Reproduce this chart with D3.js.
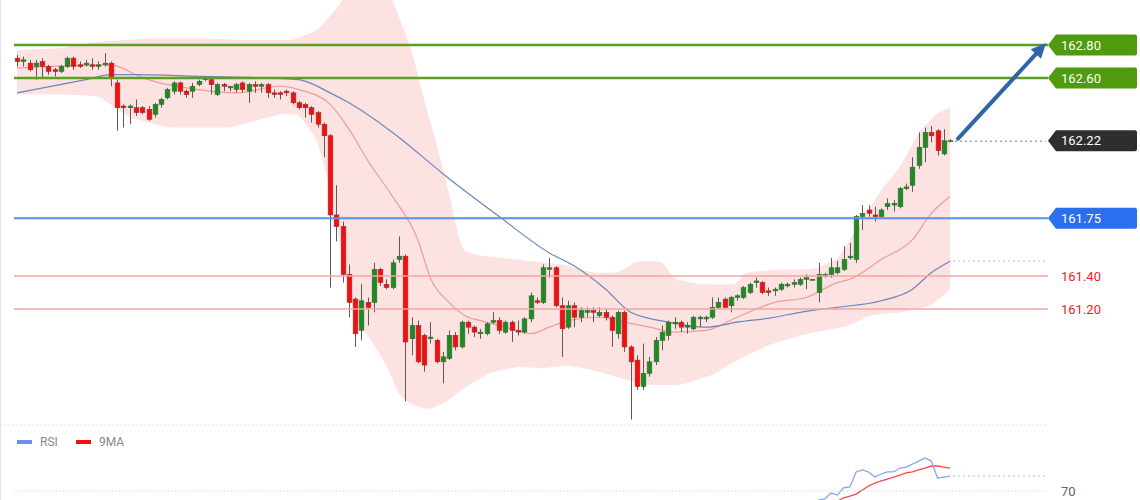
<!DOCTYPE html>
<html>
<head>
<meta charset="utf-8">
<script src="https://cdn.jsdelivr.net/npm/d3@7"></script>
<style>
  body { margin: 0; background: #fff; }
  svg { display: block; font-family: Roboto, "Open Sans", sans-serif; }
</style>
</head>
<body>
<div id="chart"></div>
<script>
// candles (price units)
const open = [
162.72,162.70,162.69,162.67,162.70,162.67,162.65,162.64,162.67,162.72,
162.68,162.68,162.68,162.67,162.68,162.69,162.57,162.43,162.42,162.42,
162.42,162.41,162.38,162.44,162.48,162.52,162.57,162.52,162.52,162.56,
162.59,162.59,162.50,162.56,162.54,162.53,162.57,162.52,162.56,162.55,
162.56,162.51,162.51,162.52,162.51,162.45,162.44,162.42,162.39,162.32,
162.25,161.77,161.70,161.41,161.26,161.07,161.24,161.24,161.44,161.35,
161.33,161.50,161.52,161.02,161.10,161.04,161.02,161.01,160.88,160.90,
161.04,160.97,161.12,161.09,161.05,161.05,161.12,161.13,161.06,161.12,
161.07,161.06,161.14,161.25,161.24,161.44,161.45,161.22,161.09,161.22,
161.15,161.18,161.19,161.16,161.18,161.15,161.05,161.18,160.97,160.89,
160.73,160.81,160.88,161.01,161.04,161.11,161.12,161.09,161.08,161.14,
161.14,161.15,161.21,161.26,161.22,161.27,161.27,161.30,161.36,161.36,
161.31,161.31,161.32,161.34,161.35,161.35,161.38,161.38,161.30,161.40,
161.41,161.42,161.44,161.51,161.50,161.76,161.80,161.77,161.76,161.82,
161.83,161.82,161.93,161.95,162.07,162.18,162.27,162.28,162.14,162.22];

const close = [
162.70,162.71,162.65,162.69,162.67,162.64,162.64,162.67,162.72,162.67,
162.67,162.69,162.67,162.68,162.69,162.60,162.42,162.42,162.43,162.39,
162.39,162.35,162.44,162.47,162.53,162.57,162.52,162.50,162.55,162.58,
162.60,162.56,162.56,162.55,162.55,162.56,162.53,162.56,162.55,162.56,
162.51,162.50,162.50,162.51,162.45,162.42,162.42,162.38,162.32,162.25,
161.77,161.70,161.41,161.24,161.05,161.25,161.21,161.44,161.36,161.33,
161.48,161.52,161.00,161.10,160.88,160.86,161.03,160.88,160.91,161.04,
160.97,161.12,161.09,161.06,161.06,161.11,161.13,161.07,161.12,161.07,
161.06,161.14,161.28,161.24,161.45,161.45,161.22,161.08,161.22,161.15,
161.19,161.19,161.18,161.18,161.15,161.07,161.18,160.97,160.88,160.73,
160.81,160.88,161.01,161.06,161.12,161.12,161.09,161.10,161.15,161.15,
161.15,161.21,161.24,161.21,161.27,161.28,161.33,161.35,161.37,161.30,
161.30,161.32,161.35,161.35,161.36,161.38,161.39,161.38,161.41,161.41,
161.45,161.45,161.50,161.52,161.76,161.78,161.78,161.76,161.80,161.84,
161.84,161.93,161.94,162.06,162.18,162.27,162.25,162.16,162.22,162.22];

const high = [
162.74,162.73,162.71,162.71,162.72,162.68,162.66,162.68,162.73,162.73,
162.70,162.71,162.72,162.70,162.75,162.70,162.59,162.44,162.44,162.47,
162.43,162.43,162.45,162.48,162.54,162.58,162.58,162.53,162.57,162.59,
162.61,162.60,162.57,162.57,162.55,162.57,162.58,162.57,162.58,162.57,
162.57,162.53,162.52,162.53,162.52,162.46,162.45,162.43,162.40,162.33,
162.26,161.95,161.73,161.47,161.27,161.35,161.27,161.48,161.45,161.38,
161.50,161.64,161.53,161.15,161.13,161.05,161.12,161.02,160.94,161.07,
161.06,161.13,161.13,161.10,161.08,161.12,161.18,161.15,161.13,161.13,
161.13,161.15,161.30,161.27,161.47,161.51,161.46,161.27,161.25,161.24,
161.21,161.21,161.21,161.21,161.20,161.16,161.19,161.19,160.98,160.92,
160.99,160.91,161.03,161.10,161.13,161.15,161.13,161.12,161.16,161.16,
161.16,161.27,161.27,161.27,161.28,161.29,161.34,161.36,161.39,161.37,
161.33,161.33,161.36,161.36,161.38,161.39,161.41,161.38,161.48,161.42,
161.51,161.49,161.58,161.60,161.77,161.83,161.83,161.82,161.81,161.87,
161.86,161.94,161.96,162.12,162.27,162.30,162.31,162.29,162.29,162.23];

const low = [
162.67,162.67,162.64,162.59,162.60,162.62,162.61,162.63,162.66,162.65,
162.66,162.67,162.65,162.65,162.67,162.55,162.28,162.30,162.32,162.37,
162.38,162.34,162.36,162.42,162.47,162.50,162.50,162.48,162.48,162.55,
162.58,162.50,162.49,162.52,162.52,162.51,162.51,162.45,162.51,162.51,
162.48,162.48,162.47,162.49,162.44,162.41,162.36,162.33,162.30,162.12,
161.33,161.61,161.36,161.15,160.97,161.01,161.10,161.18,161.34,161.32,
161.32,161.48,160.64,160.92,160.87,160.82,160.99,160.87,160.75,160.89,
160.95,160.96,161.05,161.03,161.02,161.04,161.11,161.05,161.05,161.00,
161.04,161.05,161.12,161.23,161.23,161.39,161.21,160.91,161.08,161.09,
161.12,161.15,161.12,161.15,161.13,160.97,161.02,160.94,160.53,160.71,
160.71,160.79,160.86,160.95,161.01,161.08,161.06,161.05,161.07,161.09,
161.12,161.14,161.20,161.20,161.18,161.25,161.26,161.29,161.33,161.29,
161.28,161.28,161.31,161.33,161.33,161.34,161.32,161.38,161.24,161.39,
161.39,161.41,161.43,161.50,161.48,161.68,161.76,161.73,161.75,161.80,
161.79,161.81,161.92,161.91,162.05,162.09,162.21,162.13,162.13,162.21];

// bands and moving averages: [candle index, price]
const upperBand = [[0,162.77],[7,162.78],[13,162.82],[21,162.84],[29,162.84],[37,162.83],[44,162.83],
  [48,162.89],[51,163.02],[53,163.13],[59,163.13],[60,163.07],[63,162.77],[65,162.47],[68,162.06],
  [71,161.56],[73,161.53],[77,161.51],[82,161.49],[87,161.47],[92,161.42],[96,161.42],[99,161.49],
  [103,161.49],[105,161.38],[109,161.35],[115,161.35],[116,161.42],[122,161.44],[127,161.44],
  [131,161.50],[133,161.62],[136,161.80],[138,161.92],[141,162.06],[144,162.27],[147,162.39],[149,162.42]];
const lowerBand = [[0,162.50],[7,162.50],[13,162.49],[18,162.36],[24,162.30],[34,162.30],[39,162.35],
  [42,162.38],[45,162.38],[48,162.22],[50,161.92],[52,161.50],[54,161.13],[56,161.04],[59,160.86],
  [61,160.68],[63,160.62],[66,160.59],[69,160.65],[72,160.74],[76,160.82],[80,160.85],[84,160.84],
  [88,160.86],[93,160.82],[100,160.74],[106,160.74],[111,160.80],[115,160.89],[120,160.98],
  [125,161.04],[133,161.10],[136,161.16],[141,161.18],[146,161.22],[149,161.32]];
const fastMA = [[0,162.66],[15,162.68],[19,162.62],[21,162.59],[29,162.53],[35,162.51],[42,162.55],
  [45,162.53],[50,162.44],[53,162.29],[56,162.10],[60,161.88],[64,161.62],[66,161.39],[69,161.24],
  [72,161.15],[74,161.13],[80,161.07],[82,161.05],[85,161.09],[88,161.13],[93,161.15],[97,161.12],
  [101,161.09],[105,161.06],[110,161.07],[115,161.15],[121,161.24],[126,161.27],[131,161.36],
  [133,161.38],[138,161.50],[143,161.62],[146,161.78],[149,161.88]];
const slowMA = [[0,162.51],[11,162.59],[15,162.62],[19,162.62],[29,162.61],[40,162.60],[45,162.59],
  [50,162.51],[53,162.45],[61,162.24],[68,162.02],[77,161.76],[85,161.54],[89,161.46],[94,161.32],
  [98,161.18],[104,161.12],[110,161.09],[115,161.12],[121,161.15],[125,161.18],[131,161.21],
  [138,161.25],[143,161.32],[146,161.42],[149,161.49]];

// RSI panel
const rsi = [[124,60],[125,61],[126,61.5],[127,61],[128,64.7],[129,65.3],[130,68.8],[131,67.6],
  [132,71.8],[133,72.4],[134,81.2],[135,82.4],[136,81.2],[137,78.2],[138,80],[139,81.2],[140,81.2],
  [141,83.5],[142,84.1],[143,85.9],[144,87.6],[145,89.4],[146,87.6],[147,77.6],[148,78.2],[149,78.8]];
const rsiMA = [[128,61],[129,62],[130,62.5],[131,64],[132,66],[133,67],[134,68.2],[135,70.6],
  [136,72.9],[137,74.7],[138,75.9],[139,77],[140,78.2],[141,79.4],[142,80.6],[143,81.2],[144,82.4],
  [145,83.5],[146,84.7],[147,84.7],[148,84.1],[149,83.5]];

// levels
const resistLevels = [162.80, 162.60];
const pivotLevel = 161.75;
const supportLevels = [161.40, 161.20];
const lastPrice = 162.22;
const rsiLevel = 70;

const W = 1140, H = 500;
const n = open.length;

const svg = d3.select("#chart").append("svg")
    .attr("width", W).attr("height", H);

const x = d3.scaleBand()
    .domain(d3.range(n))
    .range([13.9, 953.2])
    .paddingInner(0.25)
    .paddingOuter(0.125);
const cx = i => x(i) + x.bandwidth() / 2;

const y = d3.scaleLinear()
    .domain([160.5, 163.05])
    .range([424.5, 3.75]);

const yR = d3.scaleLinear()
    .domain([70, 100])
    .range([491, 440]);

svg.append("defs").append("clipPath").attr("id", "main")
    .append("rect").attr("x", 0).attr("y", 0).attr("width", 1048).attr("height", 424);
svg.select("defs").append("clipPath").attr("id", "sub")
    .append("rect").attr("x", 0).attr("y", 428).attr("width", 1048).attr("height", 72);

// frame
svg.append("line").attr("x1", 0.5).attr("x2", 0.5).attr("y1", 0).attr("y2", H)
    .attr("stroke", "#dfe3ea");
svg.append("line").attr("x1", 0).attr("x2", 1045).attr("y1", 424.5).attr("y2", 424.5)
    .attr("stroke", "#e4d4d8").attr("stroke-dasharray", "1,3");

const main = svg.append("g").attr("clip-path", "url(#main)");

// bollinger band
const bandData = d3.range(n).map(i => i);
const up = d3.scaleLinear().domain(upperBand.map(d => d[0])).range(upperBand.map(d => d[1]));
const lo = d3.scaleLinear().domain(lowerBand.map(d => d[0])).range(lowerBand.map(d => d[1]));
main.append("path")
    .datum(bandData)
    .attr("fill", "#fde2e2")
    .attr("d", d3.area()
        .x(i => cx(i))
        .y0(i => y(lo(i)))
        .y1(i => y(up(i)))
        .curve(d3.curveBasis));

const line = d3.line().x(d => cx(d[0])).y(d => y(d[1])).curve(d3.curveMonotoneX);
main.append("path").datum(fastMA).attr("fill", "none")
    .attr("stroke", "#f29a9a").attr("stroke-width", 1.2).attr("d", line);
main.append("path").datum(slowMA).attr("fill", "none")
    .attr("stroke", "#6b86b8").attr("stroke-width", 1.2).attr("d", line);

// horizontal levels
const x0 = 14, x1 = 1048;
svg.selectAll(".sup").data(supportLevels).enter().append("line")
    .attr("x1", x0).attr("x2", x1)
    .attr("y1", d => y(d)).attr("y2", d => y(d))
    .attr("stroke", "#f6a3a3").attr("stroke-width", 1.5);
svg.append("line")
    .attr("x1", x0).attr("x2", x1)
    .attr("y1", y(pivotLevel)).attr("y2", y(pivotLevel))
    .attr("stroke", "#5b8ef2").attr("stroke-width", 2);
svg.selectAll(".res").data(resistLevels).enter().append("line")
    .attr("x1", x0).attr("x2", x1)
    .attr("y1", d => y(d)).attr("y2", d => y(d))
    .attr("stroke", "#5ba024").attr("stroke-width", 2.5);

// candles
const candles = main.append("g").selectAll("g")
    .data(d3.range(n))
    .enter().append("g");
candles.append("line")
    .attr("x1", i => Math.round(cx(i)) + 0.5).attr("x2", i => Math.round(cx(i)) + 0.5)
    .attr("y1", i => y(high[i])).attr("y2", i => y(low[i]))
    .attr("stroke", "#5a5a5a").attr("stroke-width", 1);
candles.append("rect")
    .attr("x", i => Math.round(cx(i)) + 0.5 - x.bandwidth() / 2)
    .attr("width", x.bandwidth())
    .attr("y", i => y(Math.max(open[i], close[i])))
    .attr("height", i => Math.max(1, y(Math.min(open[i], close[i])) - y(Math.max(open[i], close[i]))))
    .attr("fill", i => close[i] >= open[i] ? "#1f8a22" : "#f01010")
    .attr("stroke", i => close[i] >= open[i] ? "#356b35" : "#a52a2a")
    .attr("stroke-width", 0.6);

// dotted guides
svg.append("line")
    .attr("x1", 955).attr("x2", 1046)
    .attr("y1", y(lastPrice) + 0.5).attr("y2", y(lastPrice) + 0.5)
    .attr("stroke", "#777").attr("stroke-dasharray", "2,3");
svg.append("line")
    .attr("x1", 953).attr("x2", 1046)
    .attr("y1", y(slowMA[slowMA.length - 1][1])).attr("y2", y(slowMA[slowMA.length - 1][1]))
    .attr("stroke", "#a9bde8").attr("stroke-dasharray", "2,3");

// arrow
const ax0 = cx(n - 1) + 8, ay0 = y(lastPrice) - 2;
const ax1 = 1046, ay1 = y(resistLevels[0]) - 2;
const ang = Math.atan2(ay1 - ay0, ax1 - ax0);
const hl = 15, hw = 7;
const bx = ax1 - hl * Math.cos(ang), by = ay1 - hl * Math.sin(ang);
svg.append("line")
    .attr("x1", ax0).attr("y1", ay0).attr("x2", bx).attr("y2", by)
    .attr("stroke", "#3163a6").attr("stroke-width", 4).attr("stroke-linecap", "round");
svg.append("path")
    .attr("d", `M${ax1},${ay1}L${bx + hw * Math.sin(ang)},${by - hw * Math.cos(ang)}L${bx - hw * Math.sin(ang)},${by + hw * Math.cos(ang)}Z`)
    .attr("fill", "#3163a6");

// price tags
function tag(price, fill) {
    const yc = y(price);
    const g = svg.append("g");
    g.append("path")
        .attr("d", `M1048,${yc}L1056,${yc - 10.5}L1135,${yc - 10.5}Q1137,${yc - 10.5} 1137,${yc - 8.5}L1137,${yc + 8.5}Q1137,${yc + 10.5} 1135,${yc + 10.5}L1056,${yc + 10.5}Z`)
        .attr("fill", fill);
    g.append("text")
        .attr("x", 1061).attr("y", yc).attr("dy", "0.36em")
        .attr("fill", "#fff").attr("font-size", 13)
        .text(price.toFixed(2));
}
resistLevels.forEach(p => tag(p, "#4f9a0e"));
tag(lastPrice, "#2e2e2e");
tag(pivotLevel, "#2a6fee");
svg.selectAll(".suplab").data(supportLevels).enter().append("text")
    .attr("x", 1061).attr("y", d => y(d)).attr("dy", "0.36em")
    .attr("fill", "#f01c1c").attr("font-size", 13)
    .text(d => d.toFixed(2));

// RSI panel
const sub = svg.append("g").attr("clip-path", "url(#sub)");
svg.append("line").attr("x1", x0).attr("x2", 1046)
    .attr("y1", yR(rsiLevel)).attr("y2", yR(rsiLevel))
    .attr("stroke", "#c9c9c9").attr("stroke-dasharray", "1,2.5");
svg.append("text").attr("x", 1061).attr("y", yR(rsiLevel)).attr("dy", "0.36em")
    .attr("fill", "#666").attr("font-size", 13).text(rsiLevel);

const rline = d3.line().x(d => cx(d[0])).y(d => yR(d[1]));
sub.append("path").datum(rsiMA).attr("fill", "none")
    .attr("stroke", "#f24a4a").attr("stroke-width", 1.3).attr("d", rline);
sub.append("path").datum(rsi).attr("fill", "none")
    .attr("stroke", "#86a3ee").attr("stroke-width", 1.3).attr("d", rline);
svg.append("line")
    .attr("x1", 953).attr("x2", 1046)
    .attr("y1", yR(rsi[rsi.length - 1][1])).attr("y2", yR(rsi[rsi.length - 1][1]))
    .attr("stroke", "#a9bde8").attr("stroke-dasharray", "2,3");

// legend
const legend = [["RSI", "#6e8ff0"], ["9MA", "#f01010"]];
const lg = svg.append("g").selectAll("g").data(legend).enter().append("g")
    .attr("transform", (d, i) => `translate(${17 + i * 59},442)`);
lg.append("rect").attr("x", 0).attr("y", -2).attr("width", 15).attr("height", 4)
    .attr("fill", d => d[1]);
lg.append("text").attr("x", 23).attr("y", 0).attr("dy", "0.36em")
    .attr("fill", "#888").attr("font-size", 12).text(d => d[0]);
</script>
</body>
</html>
